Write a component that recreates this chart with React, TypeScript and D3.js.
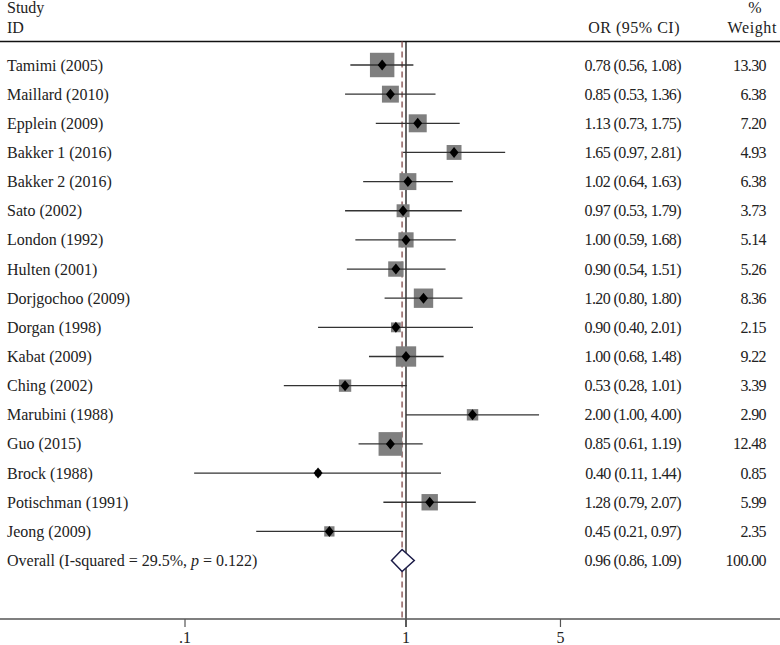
import React from "react";
import * as d3 from "d3";

const studies = [
  "Tamimi (2005)", "Maillard (2010)", "Epplein (2009)", "Bakker 1 (2016)", "Bakker 2 (2016)",
  "Sato (2002)", "London (1992)", "Hulten (2001)", "Dorjgochoo (2009)", "Dorgan (1998)",
  "Kabat (2009)", "Ching (2002)", "Marubini (1988)", "Guo (2015)", "Brock (1988)",
  "Potischman (1991)", "Jeong (2009)",
];
const orValues = [0.78, 0.85, 1.13, 1.65, 1.02, 0.97, 1.0, 0.9, 1.2, 0.9, 1.0, 0.53, 2.0, 0.85, 0.4, 1.28, 0.45];
const ciLow = [0.56, 0.53, 0.73, 0.97, 0.64, 0.53, 0.59, 0.54, 0.8, 0.4, 0.68, 0.28, 1.0, 0.61, 0.11, 0.79, 0.21];
const ciHigh = [1.08, 1.36, 1.75, 2.81, 1.63, 1.79, 1.68, 1.51, 1.8, 2.01, 1.48, 1.01, 4.0, 1.19, 1.44, 2.07, 0.97];
const weights = [13.3, 6.38, 7.2, 4.93, 6.38, 3.73, 5.14, 5.26, 8.36, 2.15, 9.22, 3.39, 2.9, 12.48, 0.85, 5.99, 2.35];

const overallLabel = "Overall (I-squared = 29.5%, ";
const overallOR = 0.96;
const overallLow = 0.86;
const overallHigh = 1.09;
const overallWeight = 100.0;

const tickValues = [0.1, 1, 5];
const tickLabels = [".1", "1", "5"];

const W = 780;
const H = 645;
const FONT = "'Liberation Serif', 'DejaVu Serif', serif";

export default function App() {
  const x = d3.scaleLog().domain([0.1, 1]).range([185, 406]);
  const rowY = d3.scaleLinear().domain([0, 1]).range([65, 65 + 29.15]);
  const headerLineY = 41.5;
  const axisY = 619;
  const n = studies.length;
  const overallY = rowY(n);
  const fmt = d3.format(".2f");
  const numStyle = { fontSize: 16, letterSpacing: -0.6 } as React.CSSProperties;

  return (
    <svg
      width={W}
      height={H}
      style={{ position: "absolute", left: 0, top: 0, background: "#fff", fontFamily: FONT }}
    >
      <rect x={0} y={0} width={W} height={H} fill="#fff" />
      {/* header */}
      <g fill="#222" fontSize={16}>
        <text x={7} y={13}>Study</text>
        <text x={7} y={33}>ID</text>
        <text x={680} y={33} textAnchor="end" letterSpacing={0.5}>OR (95% CI)</text>
        <text x={755} y={13} textAnchor="middle">%</text>
        <text x={777} y={33} textAnchor="end" letterSpacing={0.6}>Weight</text>
      </g>
      <line x1={0} x2={W} y1={headerLineY} y2={headerLineY} stroke="#111" strokeWidth={1.6} />

      {/* reference lines */}
      <line x1={x(1)} x2={x(1)} y1={headerLineY} y2={axisY + 8} stroke="#111" strokeWidth={1.3} />
      <line
        x1={x(overallOR)}
        x2={x(overallOR)}
        y1={headerLineY}
        y2={axisY}
        stroke="#8a5656"
        strokeWidth={1.4}
        strokeDasharray="6,4"
      />

      {/* studies */}
      {studies.map((s, i) => {
        const y = rowY(i);
        const side = 6.7 * Math.sqrt(weights[i]);
        const cx = x(orValues[i]);
        return (
          <g key={s}>
            <rect x={cx - side / 2} y={y - side / 2} width={side} height={side} fill="#7f7f7f" />
            <line x1={x(ciLow[i])} x2={x(ciHigh[i])} y1={y} y2={y} stroke="#333" strokeWidth={1.3} />
            <path
              d={`M${cx},${y - 5.5} L${cx + 4.5},${y} L${cx},${y + 5.5} L${cx - 4.5},${y} Z`}
              fill="#000"
            />
            <text x={7} y={y + 5.5} fontSize={16} fill="#222">{s}</text>
            <text x={681} y={y + 5.5} textAnchor="end" fill="#222" style={numStyle}>
              {`${fmt(orValues[i])} (${fmt(ciLow[i])}, ${fmt(ciHigh[i])})`}
            </text>
            <text x={766} y={y + 5.5} textAnchor="end" fill="#222" style={numStyle}>
              {fmt(weights[i])}
            </text>
          </g>
        );
      })}

      {/* overall */}
      <path
        d={`M${x(overallLow)},${overallY} L${x(overallOR)},${overallY - 11} L${x(overallHigh)},${overallY} L${x(overallOR)},${overallY + 11} Z`}
        fill="#fff"
        stroke="#1c1c48"
        strokeWidth={1.5}
      />
      <text x={7} y={overallY + 5.5} fontSize={16} fill="#222">
        {overallLabel}
        <tspan fontStyle="italic">p</tspan>
        {" = 0.122)"}
      </text>
      <text x={681} y={overallY + 5.5} textAnchor="end" fill="#222" style={numStyle}>
        {`${fmt(overallOR)} (${fmt(overallLow)}, ${fmt(overallHigh)})`}
      </text>
      <text x={766} y={overallY + 5.5} textAnchor="end" fill="#222" style={numStyle}>
        {fmt(overallWeight)}
      </text>

      {/* axis */}
      <line x1={0} x2={W} y1={axisY} y2={axisY} stroke="#555" strokeWidth={1.6} />
      {tickValues.map((t, i) => (
        <g key={t}>
          <line x1={x(t)} x2={x(t)} y1={axisY} y2={axisY + 8} stroke="#555" strokeWidth={1.2} />
          <text x={x(t)} y={axisY + 24} textAnchor="middle" fontSize={16} fill="#222">
            {tickLabels[i]}
          </text>
        </g>
      ))}
    </svg>
  );
}
